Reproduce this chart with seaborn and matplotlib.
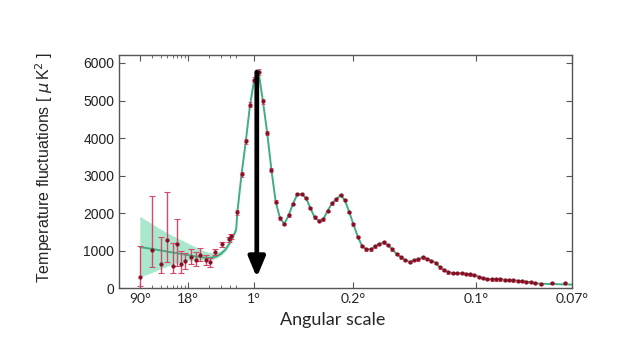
import numpy as np
import matplotlib
matplotlib.use("Agg")
import matplotlib.pyplot as plt
import seaborn as sns

# ----------------------------------------
# Data (multipole l, D_l in uK^2)
# ----------------------------------------
low_ell = [2, 3, 4, 5, 6, 7, 8, 9, 11, 13, 15, 18, 21, 25, 31.5, 39, 42]
low_D = [300, 1019, 655, 1285, 593, 1170, 638, 726, 840, 760, 900, 760, 690, 955, 1170, 1305, 1385]
low_err_lo = [250, 460, 240, 577, 193, 570, 218, 206, 200, 170, 160, 130, 110, 80, 70, 60, 60]
low_err_hi = [825, 1444, 718, 1285, 607, 673, 354, 224, 210, 200, 180, 140, 110, 80, 70, 60, 60]

binned_ell = [58, 89, 120, 151, 182, 213, 245, 276, 307, 338,
              370, 401, 432, 464, 496, 527, 559, 590, 622, 653,
              685, 716, 748, 779, 811, 842, 874, 905, 937, 968,
              1000, 1031, 1063, 1094, 1126, 1157, 1189, 1220, 1252, 1283,
              1315, 1346, 1378, 1409, 1441, 1472, 1504, 1535, 1567, 1598,
              1630, 1661, 1693, 1724, 1756, 1787, 1819, 1850, 1882, 1913,
              1945, 1976, 2008, 2039, 2071, 2102, 2134, 2165, 2197, 2228,
              2270, 2350, 2450]
binned_D = [2021, 3040, 3918, 4893, 5558, 5761, 4981, 4139, 3146, 2304,
            1862, 1720, 1940, 2250, 2508, 2508, 2410, 2144, 1888, 1798,
            1835, 2064, 2261, 2367, 2481, 2348, 2037, 1702, 1372, 1125,
            1037, 1037, 1117, 1178, 1223, 1152, 1037, 912, 824, 753,
            699, 753, 771, 824, 790, 734, 681, 558, 487, 425,
            399, 399, 399, 390, 372, 354, 309, 266, 248, 239,
            239, 239, 230, 221, 212, 204, 195, 177, 160, 133,
            115, 151, 133]
binned_err = [70] * 6 + [60, 50, 45, 40] + [30] * 63

# model curve and cosmic-variance band at low l
band_ell = [2, 3, 4, 5, 6, 8, 10, 13, 16, 20, 25, 30, 35, 40, 45, 50]
band_model = [1100, 1050, 1010, 980, 955, 915, 885, 850, 825, 810, 840, 920, 1040, 1200, 1380, 1570]
band_lo = [300, 420, 520, 590, 640, 700, 740, 760, 760, 750, 790, 870, 990, 1150, 1330, 1520]
band_hi = [1920, 1720, 1580, 1480, 1400, 1290, 1200, 1100, 1020, 960, 940, 1000, 1100, 1260, 1430, 1620]
tail_ell = [2270, 2350, 2450, 2500]
tail_model = [125, 115, 105, 100]

model_ell = band_ell + binned_ell[:-3] + tail_ell
model_D = band_model + binned_D[:-3] + tail_model

tick_ell = [2, 10, 180, 900, 1800, 2500]
tick_labels = ["90°", "18°", "1°", "0.2°", "0.1°", "0.07°"]


# log axis up to l=50, linear above (Planck style)
def fwd(l):
    l = np.asarray(l, dtype=float)
    lc = np.clip(l, 1e-3, None)
    return np.where(l <= 50, np.log10(lc), np.log10(50) + (l - 50) / 503.0)


def inv(y):
    y = np.asarray(y, dtype=float)
    return np.where(y <= np.log10(50), 10 ** np.clip(y, -3, 2), 50 + (y - np.log10(50)) * 503.0)


sns.set_style("ticks")
plt.rcParams["xtick.direction"] = "in"
plt.rcParams["ytick.direction"] = "in"

fig = plt.figure(figsize=(6.4, 3.6), dpi=100)
ax = fig.add_axes([0.186, 0.199, 0.708, 0.649])
ax.set_xscale("function", functions=(fwd, inv))

ax.fill_between(band_ell, band_lo, band_hi, color="#8fe0bd", alpha=0.75, lw=0, zorder=1)
sns.lineplot(x=model_ell, y=model_D, ax=ax, color="#3fae82", lw=1.4,
             estimator=None, sort=False, zorder=2)

ax.errorbar(low_ell, low_D, yerr=[low_err_lo, low_err_hi], fmt="none",
            ecolor="#d44a6a", elinewidth=1.0, capsize=2.5, capthick=0.8, zorder=3)
ax.errorbar(binned_ell, binned_D, yerr=binned_err, fmt="none",
            ecolor="#d44a6a", elinewidth=0.8, capsize=1.5, capthick=0.6, zorder=3)
sns.scatterplot(x=low_ell + binned_ell, y=low_D + binned_D, ax=ax, color="#8a0c22",
                s=7, marker="o", edgecolor="#8a0c22", linewidth=0.3, zorder=4)

# arrow marking the 1 degree peak
ax.annotate("", xy=(200, 290), xytext=(200, 5760),
            arrowprops=dict(arrowstyle="-|>,head_length=0.6,head_width=0.25",
                            color="black", lw=3.4, mutation_scale=20,
                            shrinkA=0, shrinkB=0), zorder=5)

ax.set_xlim(1, 2500)
ax.set_ylim(0, 6220)
ax.set_xticks(tick_ell)
ax.set_xticklabels(tick_labels, fontsize=10, family="Lato")
ax.set_xticks([3, 4, 5, 6, 7, 8, 9, 20, 30, 40, 50], minor=True)
ax.set_yticks([0, 1000, 2000, 3000, 4000, 5000, 6000])
ax.tick_params(axis="y", labelsize=10)
for lab in ax.get_yticklabels():
    lab.set_family("Liberation Sans")
    lab.set_color("#222222")
ax.tick_params(which="both", top=True, right=True, color="#555555")
ax.tick_params(which="major", length=4)
ax.tick_params(which="minor", length=2)
for sp in ax.spines.values():
    sp.set_color("#555555")
    sp.set_linewidth(1.0)

ax.set_xlabel("Angular scale", fontsize=13, family="Lato")
ax.xaxis.set_label_coords(0.472, -0.10)
ax.set_ylabel("Temperature fluctuations [ $\\mu\\,$K$^2$ ]", fontsize=11.5, family="Liberation Sans")
ax.yaxis.set_label_coords(-0.141, 0.52)

plt.savefig("out.png", dpi=100)
